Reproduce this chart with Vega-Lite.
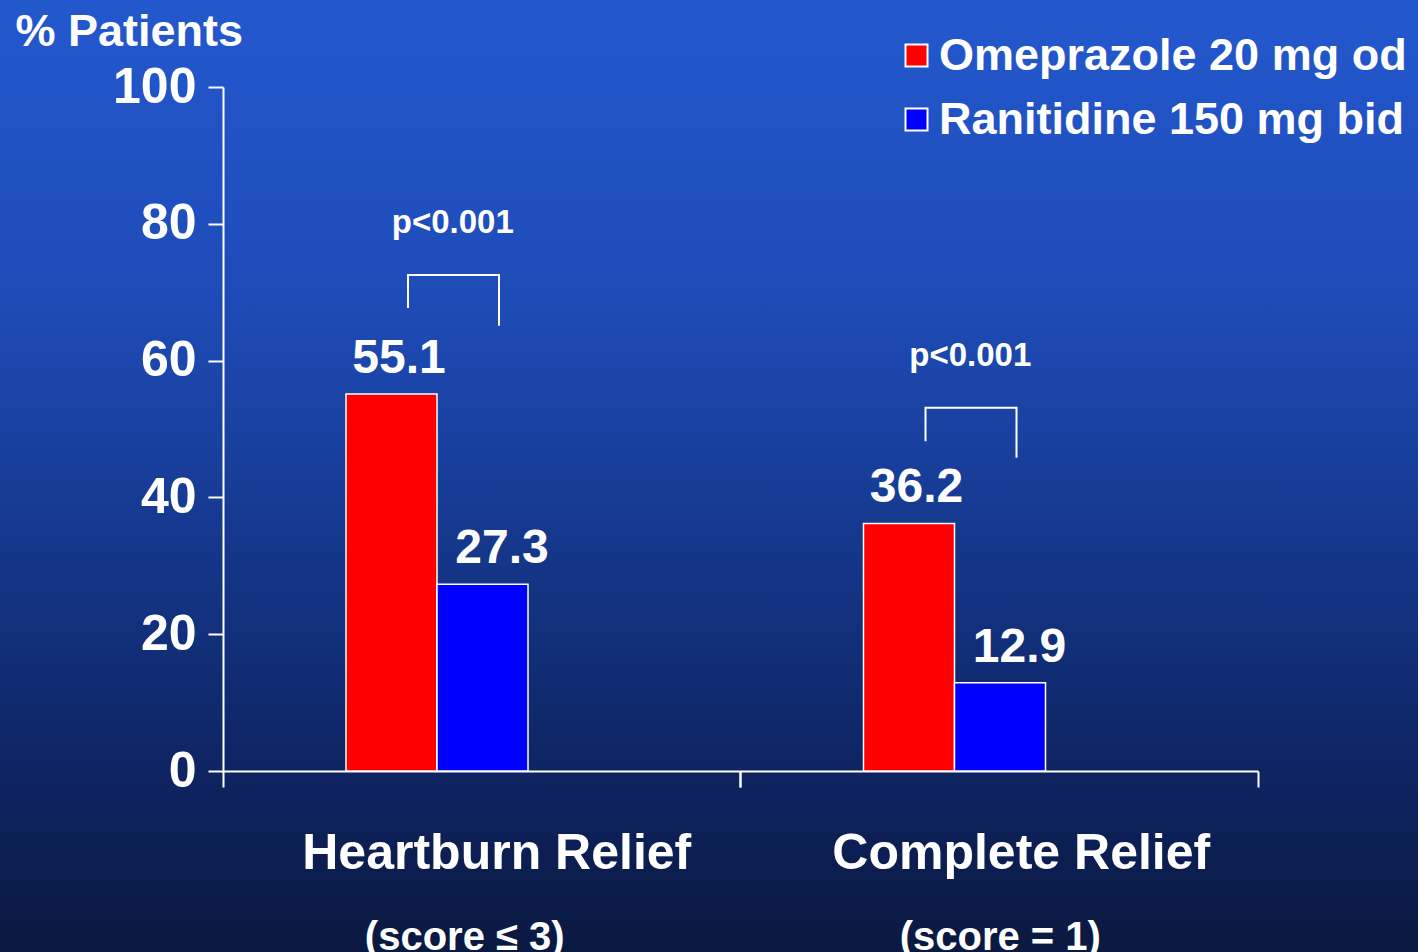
{
  "$schema": "https://vega.github.io/schema/vega-lite/v6.json",
  "width": 1418,
  "height": 952,
  "autosize": {"type": "none"},
  "padding": 0,
  "background": "#142f78",
  "config": {
    "font": "Liberation Sans",
    "view": {
      "stroke": null,
      "fill": {"gradient": "linear", "x1": 0, "y1": 0, "x2": 0, "y2": 1,
        "stops": [
          {"offset": 0, "color": "#2358cd"},
          {"offset": 0.3, "color": "#1e4cb9"},
          {"offset": 0.48, "color": "#183f9c"},
          {"offset": 0.66, "color": "#12307c"},
          {"offset": 0.82, "color": "#0e2360"},
          {"offset": 1, "color": "#0a1940"}
        ]}
    },
    "axis": {"domainColor": "white", "tickColor": "white", "labelColor": "white", "titleColor": "white", "grid": false, "domainWidth": 2, "tickWidth": 2}
  },
  "datasets": {
    "bars": [
      {"category": "Heartburn Relief", "drug": "Omeprazole 20 mg od", "pct": 55.1},
      {"category": "Heartburn Relief", "drug": "Ranitidine 150 mg bid", "pct": 27.3},
      {"category": "Complete Relief", "drug": "Omeprazole 20 mg od", "pct": 36.2},
      {"category": "Complete Relief", "drug": "Ranitidine 150 mg bid", "pct": 12.9}
    ],
    "bracket": [
      {"category": "Heartburn Relief", "drug": "Omeprazole 20 mg od", "y": 67.7, "seq": 1},
      {"category": "Heartburn Relief", "drug": "Omeprazole 20 mg od", "y": 72.5, "seq": 2},
      {"category": "Heartburn Relief", "drug": "Ranitidine 150 mg bid", "y": 72.5, "seq": 3},
      {"category": "Heartburn Relief", "drug": "Ranitidine 150 mg bid", "y": 65.1, "seq": 4},
      {"category": "Complete Relief", "drug": "Omeprazole 20 mg od", "y": 48.2, "seq": 1},
      {"category": "Complete Relief", "drug": "Omeprazole 20 mg od", "y": 53.1, "seq": 2},
      {"category": "Complete Relief", "drug": "Ranitidine 150 mg bid", "y": 53.1, "seq": 3},
      {"category": "Complete Relief", "drug": "Ranitidine 150 mg bid", "y": 45.8, "seq": 4}
    ],
    "pvals": [
      {"category": "Heartburn Relief", "p": "p<0.001", "y": 72.5},
      {"category": "Complete Relief", "p": "p<0.001", "y": 53.1}
    ]
  },
  "resolve": {"axis": {"x": "independent"}, "scale": {"xOffset": "independent"}},
  "layer": [
    {
      "data": {"name": "bars"},
      "mark": {"type": "bar", "stroke": "white", "strokeWidth": 1.5},
      "encoding": {
        "x": {"field": "category", "type": "nominal", "sort": ["Heartburn Relief", "Complete Relief"],
          "scale": {"range": [223, 1258], "paddingInner": 0, "paddingOuter": 0},
          "axis": {"orient": "bottom", "offset": -181, "bandPosition": 0, "labels": false, "title": null, "tickSize": 16}},
        "xOffset": {"field": "drug", "type": "nominal", "sort": ["Omeprazole 20 mg od", "Ranitidine 150 mg bid"],
          "scale": {"range": [123, 305], "paddingInner": 0, "paddingOuter": 0}},
        "y": {"field": "pct", "type": "quantitative",
          "scale": {"domain": [0, 100], "range": [771, 87], "nice": false},
          "axis": {"orient": "left", "offset": -223, "values": [0, 20, 40, 60, 80, 100], "tickSize": 15, "labelPadding": 12,
            "labelFontSize": 50, "labelFontWeight": "bold", "labelFont": "Liberation Sans",
            "title": "% Patients", "titleAngle": 0, "titleAlign": "left", "titleBaseline": "alphabetic",
            "titleX": -208, "titleY": 45, "titleFontSize": 45, "titleFontWeight": "bold", "titleFont": "Liberation Sans"}},
        "color": {"field": "drug", "type": "nominal",
          "scale": {"domain": ["Omeprazole 20 mg od", "Ranitidine 150 mg bid"], "range": ["#ff0000", "#0000ff"]},
          "legend": {"orient": "none", "legendX": 894, "legendY": 33, "padding": 0, "title": null, "symbolType": "square", "symbolSize": 484,
            "symbolStrokeColor": "white", "symbolStrokeWidth": 2, "symbolOpacity": 1,
            "labelFontSize": 45, "labelFontWeight": "bold", "labelColor": "white", "labelFont": "Liberation Sans",
            "labelOffset": 0, "rowPadding": 18, "labelLimit": 600}}
      }
    },
    {
      "data": {"name": "bars"},
      "mark": {"type": "text", "color": "white", "fontSize": 48, "fontWeight": "bold", "baseline": "alphabetic", "dy": -21},
      "encoding": {
        "x": {"field": "category", "type": "nominal", "sort": ["Heartburn Relief", "Complete Relief"],
          "axis": {"orient": "bottom", "offset": -181, "domain": false, "ticks": false, "tickSize": 0, "title": null,
            "labelFontSize": 50, "labelFontWeight": "bold", "labelPadding": 57,
            "labelOffset": {"condition": {"test": "datum.value == 'Heartburn Relief'", "value": 15}, "value": 22},
            "labelBaseline": "top", "labelAngle": 0, "labelLimit": 600}},
        "xOffset": {"field": "drug", "type": "nominal", "sort": ["Omeprazole 20 mg od", "Ranitidine 150 mg bid"],
          "scale": {"type": "point", "range": [176, 279], "padding": 0}},
        "y": {"field": "pct", "type": "quantitative"},
        "text": {"field": "pct", "type": "quantitative", "format": ".1f"}
      }
    },
    {
      "data": {"name": "pvals"},
      "mark": {"type": "text", "color": "white", "fontSize": 33, "fontWeight": "bold", "baseline": "alphabetic", "dy": -42, "dx": -29},
      "encoding": {
        "x": {"field": "category", "type": "nominal", "sort": ["Heartburn Relief", "Complete Relief"],
          "axis": {"orient": "bottom", "offset": -181, "domain": false, "ticks": false, "tickSize": 0, "title": null,
            "labelExpr": "datum.value == 'Heartburn Relief' ? '(score ≤ 3)' : '(score = 1)'",
            "labelFontSize": 40, "labelFontWeight": "bold", "labelPadding": 146, "labelBaseline": "top", "labelAngle": 0,
            "labelOffset": {"condition": {"test": "datum.value == 'Heartburn Relief'", "value": -17}, "value": 1},
            "labelLimit": 600}},
        "y": {"field": "y", "type": "quantitative"},
        "text": {"field": "p", "type": "nominal"}
      }
    },
    {
      "data": {"name": "bracket"},
      "mark": {"type": "line", "color": "white", "strokeWidth": 2, "interpolate": "linear"},
      "encoding": {
        "x": {"field": "category", "type": "nominal", "sort": ["Heartburn Relief", "Complete Relief"],
          "axis": {"orient": "bottom", "offset": -181, "domain": false, "labels": false, "bandPosition": 1, "tickSize": 16, "title": null}},
        "xOffset": {"field": "drug", "type": "nominal", "sort": ["Omeprazole 20 mg od", "Ranitidine 150 mg bid"],
          "scale": {"type": "point", "range": [185, 276], "padding": 0}},
        "y": {"field": "y", "type": "quantitative"},
        "detail": {"field": "category", "type": "nominal"},
        "order": {"field": "seq", "type": "quantitative"}
      }
    }
  ]
}
